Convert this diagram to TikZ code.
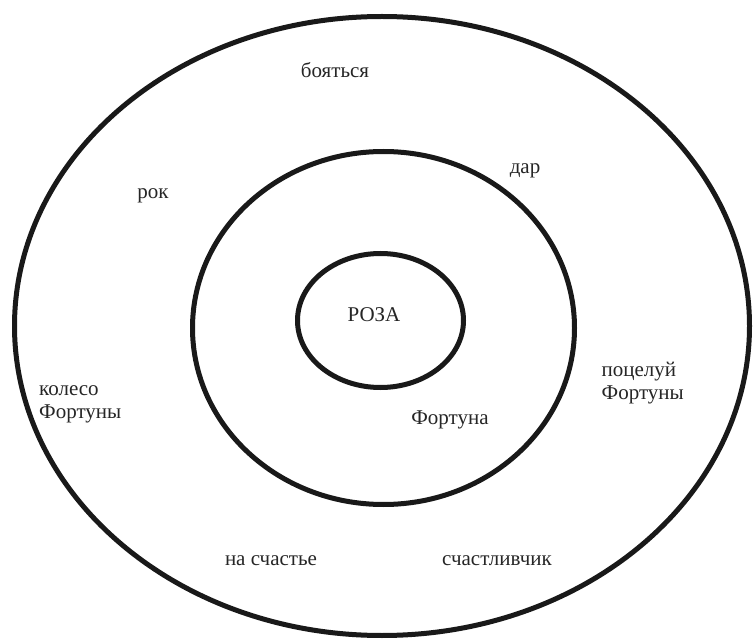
\documentclass[tikz,border=0pt]{standalone}
\usepackage{fontspec}
\setmainfont{Liberation Serif}
\begin{document}
\begin{tikzpicture}[x=1pt,y=-1pt,
  ring/.style={line width=5pt, draw=black!90},
  lbl/.style={inner sep=0pt, text=black!85, font=\fontsize{21}{23}\selectfont},
  lblc/.style={lbl, anchor=base},
  lblw/.style={lbl, anchor=base west, align=left}]
\useasboundingbox (0,0) rectangle (753,639);
\fill[white] (0,0) rectangle (753,639);
\draw[ring] (382,326) ellipse [x radius=367.5, y radius=309.5];
\draw[ring] (383.5,328) ellipse [x radius=191, y radius=176.5];
\draw[ring] (380.5,320.5) ellipse [x radius=83, y radius=67];
\node[lblc] (boyat) at (335,78) {бояться};
\node[lblc] (rok) at (153,199) {рок};
\node[lblc] (dar) at (525,174) {дар};
\node[lblc] (roza) at (374,322) {РОЗА};
\node[lblc] (fortuna) at (450,424) {Фортуна};
\node[lblc] (nasch) at (271,565) {на счастье};
\node[lblc] (schast) at (497,565) {счастливчик};
\node[lblw] (koleso) at (39,418.5) {колесо\\Фортуны};
\node[lblw] (poceluy) at (601.5,399.5) {поцелуй\\Фортуны};
\end{tikzpicture}
\end{document}
